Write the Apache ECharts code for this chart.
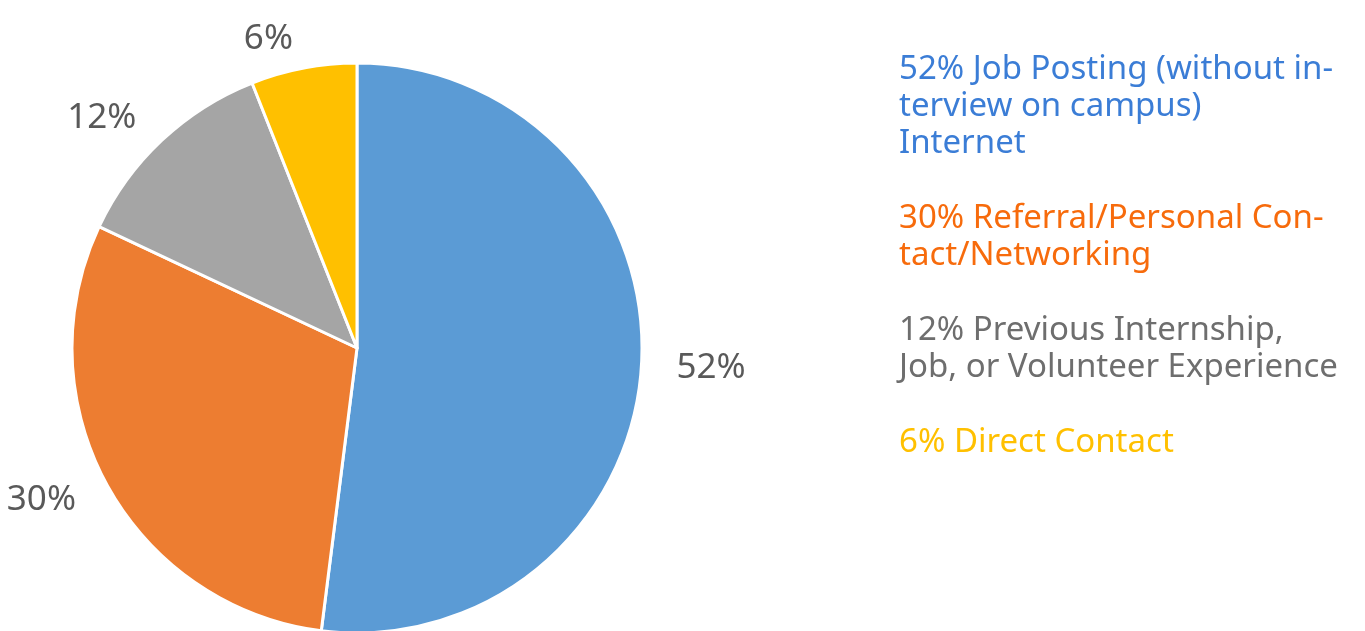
<!DOCTYPE html>
<html>
<head>
<meta charset="utf-8">
<script src="https://cdn.jsdelivr.net/npm/echarts@6/dist/echarts.min.js"></script>
<style>
html,body{margin:0;padding:0;background:#fff;}
#chart{width:1365px;height:631px;}
</style>
</head>
<body>
<div id="chart"></div>
<script>
// 数据
var sources = ['Job Posting', 'Referral', 'Previous Experience', 'Direct Contact'];
var shares = [52, 30, 12, 6];
// 图例文字（原图手动换行）
var legendTexts = [
	'52% Job Posting (without in-\nterview on campus)\nInternet',
	'30% Referral/Personal Con-\ntact/Networking',
	'12% Previous Internship,\nJob, or Volunteer Experience',
	'6% Direct Contact'
];
var sliceColors = ['#5B9BD5', '#ED7D31', '#A5A5A5', '#FFC000'];
var textColors = ['#3B7DD6', '#F76B0C', '#6E6E6E', '#FFC000'];

var myChart = echarts.init(document.getElementById('chart'));

var pieData = [];
var legendData = [];
for(var i=0;i<sources.length;i++)
{
	pieData.push({name: sources[i], value: shares[i], itemStyle: {color: sliceColors[i]}});
	legendData.push({name: sources[i], textStyle: {color: textColors[i]}});
}

var option = {
	backgroundColor: '#fff',
	animation: false,
	legend: {
		orient: 'vertical',
		left: 894,
		top: 51,
		padding: 0,
		icon: 'none',
		itemWidth: 0,
		itemHeight: 0,
		itemGap: 38,
		selectedMode: false,
		data: legendData,
		formatter: function(name){
			return legendTexts[sources.indexOf(name)];
		},
		textStyle: {fontFamily: 'Noto Sans', fontSize: 33, lineHeight: 37, padding: 0}
	},
	series: [{
		type: 'pie',
		center: [357, 348],
		radius: [0, 285],
		startAngle: 90,
		clockwise: true,
		avoidLabelOverlap: false,
		itemStyle: {borderColor: '#fff', borderWidth: 3},
		label: {
			show: true,
			position: 'outside',
			formatter: '{c}%',
			color: '#595959',
			fontFamily: 'Noto Sans',
			fontSize: 35
		},
		labelLine: {show: false, length: 30, length2: 0},
		emphasis: {disabled: true},
		data: pieData
	}]
};
myChart.setOption(option);
</script>
</body>
</html>
